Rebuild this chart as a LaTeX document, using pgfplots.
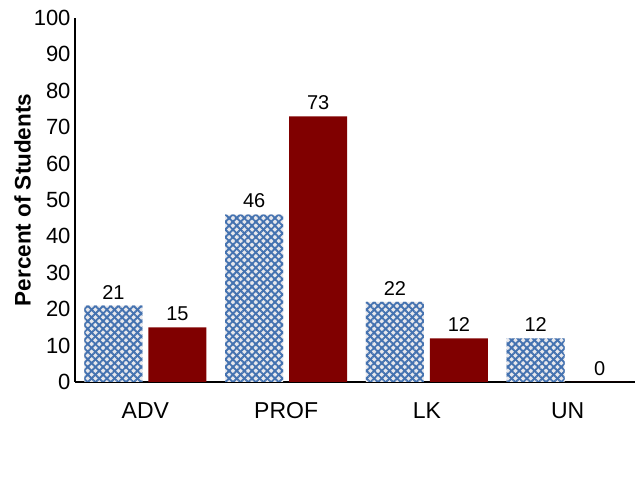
\documentclass[border=0pt]{standalone}
\usepackage{pgfplots}
\pgfplotsset{compat=1.18}
\usetikzlibrary{patterns.meta}
\usepackage{fontspec}
\setmainfont{Liberation Sans}
\definecolor{hatchblue}{RGB}{68,114,176}
\definecolor{hatchbg}{RGB}{232,232,236}
\definecolor{barred}{RGB}{128,0,0}
\begin{document}
\begin{tikzpicture}[x=1bp,y=1bp]
\useasboundingbox (0,0) rectangle (635,493);
\begin{axis}[
  at={(75bp,111bp)}, anchor=south west,
  scale only axis, width=563bp, height=364bp,
  xmin=-0.5, xmax=3.5, ymin=0, ymax=100,
  axis x line*=bottom, axis y line*=left,
  axis line style={line width=1.3bp, -},
  ytick={0,10,...,100},
  xtick={0,1,2,3},
  xticklabels={ADV,PROF,LK,UN},
  major tick length=0pt,
  yticklabel style={font=\fontsize{22bp}{24bp}\selectfont, xshift=-1bp},
  xticklabel style={font=\fontsize{23bp}{26bp}\selectfont, yshift=-17bp},
  ylabel={\textbf{Percent of Students}},
  ylabel style={font=\fontsize{22.5bp}{26bp}\selectfont, yshift=-4bp},
  /pgf/number format/assume math mode=true,
  ybar, bar width=58bp,
  nodes near coords,
  nodes near coords style={font=\fontsize{20bp}{22bp}\selectfont, anchor=south, yshift=3bp},
  clip=false,
]
\addplot[bar shift=-32bp, draw=none, fill=hatchbg,
  postaction={pattern={Lines[angle=45,distance=5.4bp,line width=1.9bp]}, pattern color=hatchblue},
  postaction={pattern={Lines[angle=-45,distance=5.4bp,line width=1.9bp]}, pattern color=hatchblue}]
  coordinates {(0,21) (1,46) (2,22) (3,12)};
\addplot[bar shift=32bp, draw=none, fill=barred]
  coordinates {(0,15) (1,73) (2,12) (3,0)};
\end{axis}
\end{tikzpicture}
\end{document}
